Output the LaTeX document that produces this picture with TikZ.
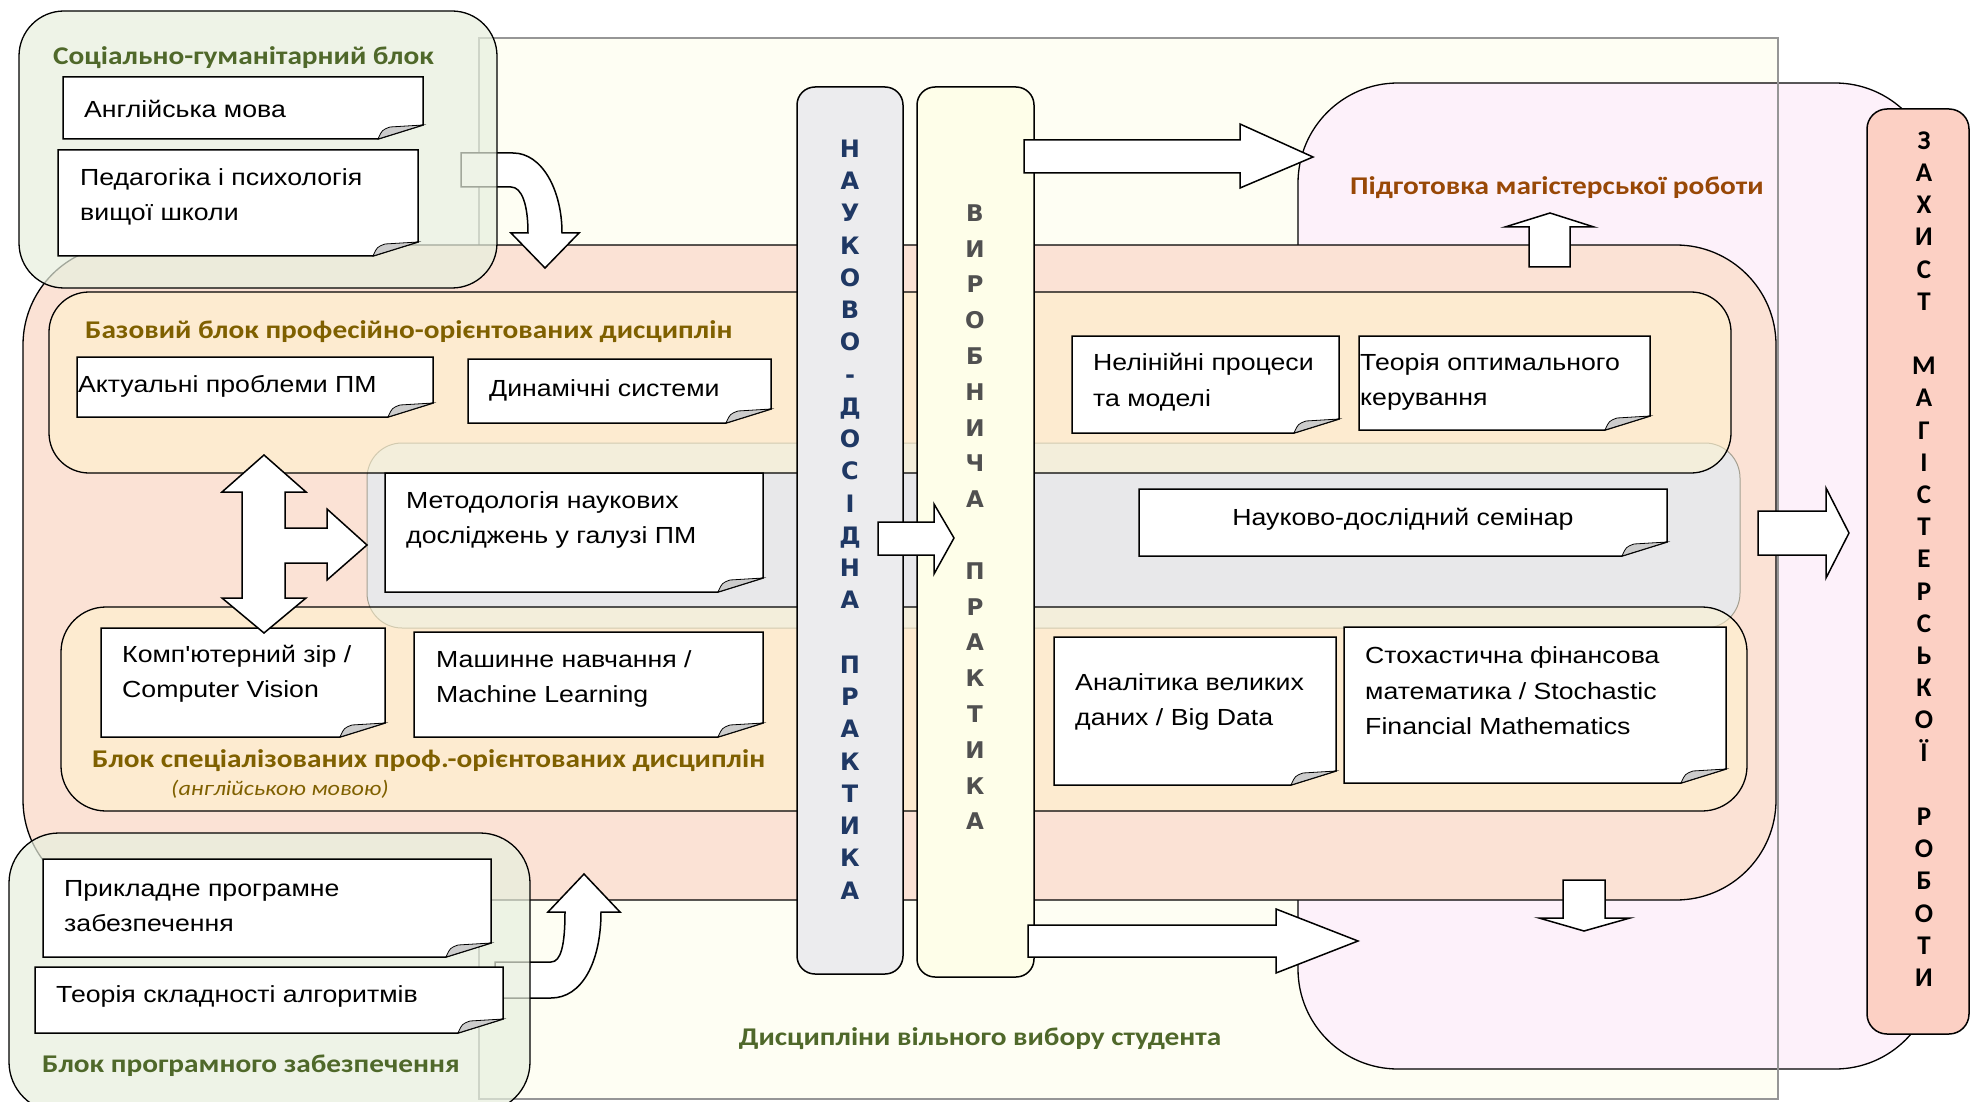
\documentclass[tikz,border=0pt]{standalone}
\usepackage{fontspec}
\setmainfont{Liberation Sans}
\newfontfamily\boxfont{Liberation Sans}[FakeStretch=1.145,Ligatures=TeXOff]
\newfontfamily\headfont{Carlito}[FakeStretch=1.15]
\newfontfamily\defont{Carlito}
\newfontfamily\colfont{DejaVu Sans}
\definecolor{discCream}{RGB}{254,254,243}
\definecolor{pinkA}{RGB}{253,241,250}
\definecolor{salmonA}{RGB}{251,226,213}
\definecolor{bandGray}{RGB}{232,232,234}
\definecolor{bandLine}{RGB}{165,160,145}
\definecolor{baseFill}{RGB}{255,244,205}
\definecolor{greenFill}{RGB}{231,239,222}
\definecolor{colGray}{RGB}{236,236,238}
\definecolor{colYellow}{RGB}{254,254,233}
\definecolor{defRed}{RGB}{252,208,196}
\definecolor{greenTxt}{RGB}{79,104,42}
\definecolor{goldTxt}{RGB}{127,96,0}
\definecolor{brownTxt}{RGB}{152,72,6}
\definecolor{navyTxt}{RGB}{31,56,100}
\definecolor{grayTxt}{RGB}{80,80,80}
\definecolor{discLine}{RGB}{150,150,150}
\newcommand\notebox[4]{%
  \path[notepaper] (#1,#2) -- (#3,#2) -- ({#3},{#4-14}) -- ({#3-45},{#4}) -- (#1,#4) -- cycle;
  \path[notefold] ({#3-45},{#4}) .. controls ({#3-41},{#4-9}) .. ({#3-33},{#4-12}) -- ({#3},{#4-14}) -- cycle;}
\begin{document}
\begin{tikzpicture}[x=1pt,y=-1pt,
  notepaper/.style={fill=white,draw=black,line width=1.5pt,line join=miter},
  notefold/.style={fill=gray!40,draw=black,line width=0.8pt},
  blockarrow/.style={fill=white,draw=black,line width=1.5pt,line join=miter},
  bigblock/.style={draw=black,line width=1.3pt},
  txt/.style={anchor=west,inner sep=0pt,align=left,yshift=-3pt,font={\boxfont\fontsize{23.3}{35.5}\selectfont}},
  headtxt/.style={anchor=west,inner sep=0pt,yshift=-2.5pt,font={\headfont\bfseries\fontsize{25.5}{30}\selectfont}},
  coltxt/.style={inner sep=0pt,align=center}]
\useasboundingbox (0,0) rectangle (1971,1102);
\fill[white] (0,0) rectangle (1971,1102);
% free-choice area
\path[fill=discCream] (479,38) rectangle (1778,1099);
% thesis preparation
\path[fill=pinkA,bigblock,rounded corners=100pt] (1298,83) rectangle (1935,1069);
\draw[discLine,line width=1.2pt] (479,38) rectangle (1778,1099);
% professional block
\path[fill=salmonA,bigblock,rounded corners=100pt] (23,245) rectangle (1776,900);
% research band
\path[fill=bandGray,draw=bandLine,line width=1pt,rounded corners=35pt] (367,443) rectangle (1740,628);
% base and specialised blocks
\path[fill=baseFill,fill opacity=0.5,bigblock,rounded corners=40pt] (49,292) rectangle (1731,473);
\path[fill=baseFill,fill opacity=0.5,bigblock,rounded corners=45pt] (61,607) rectangle (1747,811);
\node[headtxt,text=goldTxt] (basetitle) at (85,329) {Базовий блок професійно-орієнтованих дисциплін};
\node[headtxt,text=goldTxt] (spectitle) at (92,758) {Блок спеціалізованих проф.-орієнтованих дисциплін};
\node[anchor=west,inner sep=0pt,yshift=-2pt,font={\headfont\itshape\fontsize{21}{24}\selectfont},text=goldTxt] (specsub) at (171,787) {(англійською мовою)};
% notes of the professional block
\notebox{77}{357}{433}{417}
\node[txt] (akt) at (78,383) {Актуальні проблеми ПМ};
\notebox{468}{359}{771}{423}
\node[txt] (dyn) at (489,387) {Динамічні системи};
\notebox{385}{473}{763}{592}
\node[txt] (met) at (406,517) {Методологія наукових\\досліджень у галузі ПМ};
\notebox{101}{628}{385}{737}
\node[txt] (cv) at (122,671) {Комп'ютерний зір /\\Computer Vision};
\notebox{414}{632}{763}{737}
\node[txt] (ml) at (436,676) {Машинне навчання /\\Machine Learning};
\notebox{1072}{336}{1339}{433}
\node[txt] (nl) at (1093,379) {Нелінійні процеси\\та моделі};
\notebox{1359}{336}{1650}{430}
\node[txt] (oc) at (1360,379) {Теорія оптимального\\керування};
\notebox{1139}{489}{1667}{556}
\node[txt,anchor=center] (sem) at (1403,516) {Науково-дослідний семінар};
\notebox{1054}{637}{1336}{785}
\node[txt] (bd) at (1075,699) {Аналітика великих\\даних / Big Data};
\notebox{1344}{627}{1726}{783}
\node[txt] (sfm) at (1365,688) {Стохастична фінансова\\математика / Stochastic\\Financial Mathematics};
% curved arrows (under the green blocks)
\path[blockarrow] (461,153) -- (513,153) .. controls (542,153) and (562,190) .. (562,233) -- (579,233) -- (545,268) -- (511,233) -- (528,233) .. controls (528,205) and (522,187) .. (511,187) -- (461,187) -- cycle;
\path[blockarrow] (495,962) -- (551,962) .. controls (561,962) and (565,945) .. (565,912) -- (548,912) -- (584,874) -- (620,912) -- (601,912) .. controls (601,962) and (582,998) .. (551,998) -- (495,998) -- cycle;
% green blocks
\path[fill=greenFill,fill opacity=0.7,bigblock,rounded corners=45pt] (19,11) rectangle (497,288);
\path[fill=greenFill,fill opacity=0.7,bigblock,rounded corners=50pt] (9,833) rectangle (530,1112);
\node[headtxt,text=greenTxt] (soctitle) at (53,55) {Соціально-гуманітарний блок};
\node[headtxt,text=greenTxt] (swtitle) at (42,1063) {Блок програмного забезпечення};
\notebox{63}{77}{423}{139}
\node[txt] (eng) at (84,106) {Англійська мова};
\notebox{58}{150}{418}{256}
\node[txt] (ped) at (80,194) {Педагогіка і психологія\\вищої школи};
\notebox{43}{859}{491}{957}
\node[txt] (app) at (64,903) {Прикладне програмне\\забезпечення};
\notebox{35}{967}{503}{1033}
\node[txt] (alg) at (56,993) {Теорія складності алгоритмів};
% practice columns
\path[fill=colGray,draw=black,line width=1.5pt,rounded corners=18pt] (797,87) rectangle (903,974);
\path[fill=colYellow,draw=black,line width=1.5pt,rounded corners=18pt] (917,87) rectangle (1034,977);
\node[coltxt,text=navyTxt,font={\colfont\bfseries\fontsize{24}{32.25}\selectfont}] (nd) at (850,519.6)
  {Н\\А\\У\\К\\О\\В\\О\\-\\Д\\О\\С\\І\\Д\\Н\\А\\\mbox{}\\П\\Р\\А\\К\\Т\\И\\К\\А};
\node[coltxt,text=grayTxt,font={\colfont\bfseries\fontsize{23}{35.8}\selectfont}] (vp) at (975,517.3)
  {В\\И\\Р\\О\\Б\\Н\\И\\Ч\\А\\\mbox{}\\П\\Р\\А\\К\\Т\\И\\К\\А};
% defence column
\path[fill=defRed,draw=black,line width=1.5pt,rounded corners=20pt] (1867,109) rectangle (1969,1034);
\node[coltxt,text=black,font={\defont\bfseries\fontsize{27}{32.2}\selectfont}] (def) at (1924,559)
  {З\\А\\Х\\И\\С\\Т\\\mbox{}\\М\\А\\Г\\І\\С\\Т\\Е\\Р\\С\\Ь\\К\\О\\Ї\\\mbox{}\\Р\\О\\Б\\О\\Т\\И};
% straight block arrows
\path[blockarrow] (264,455) -- (306,492) -- (285,492) -- (285,528) -- (327,528) -- (327,509) -- (367,545) -- (327,580) -- (327,563) -- (285,563) -- (285,598) -- (306,598) -- (264,633) -- (222,598) -- (242,598) -- (242,492) -- (222,492) -- cycle;
\path[blockarrow] (878,522) -- (934,522) -- (934,504) -- (954,538) -- (934,574) -- (934,555) -- (878,555) -- cycle;
\path[blockarrow] (1024,140) -- (1240,140) -- (1240,124) -- (1313,157) -- (1240,188) -- (1240,173) -- (1024,173) -- cycle;
\path[blockarrow] (1028,925) -- (1276,925) -- (1276,909) -- (1358,941) -- (1276,973) -- (1276,957) -- (1028,957) -- cycle;
\path[blockarrow] (1529,267) -- (1529,227) -- (1505,227) -- (1550,213) -- (1594,227) -- (1570,227) -- (1570,267) -- cycle;
\path[blockarrow] (1563,880) -- (1605,880) -- (1605,918) -- (1630,918) -- (1584,931) -- (1539,918) -- (1563,918) -- cycle;
\path[blockarrow] (1758,511) -- (1826,511) -- (1826,488) -- (1849,533) -- (1826,578) -- (1826,555) -- (1758,555) -- cycle;
% labels
\node[headtxt,text=brownTxt] (thesis) at (1350,185) {Підготовка магістерської роботи};
\node[headtxt,anchor=center,text=greenTxt] (free) at (980,1036) {Дисципліни вільного вибору студента};
\end{tikzpicture}
\end{document}
